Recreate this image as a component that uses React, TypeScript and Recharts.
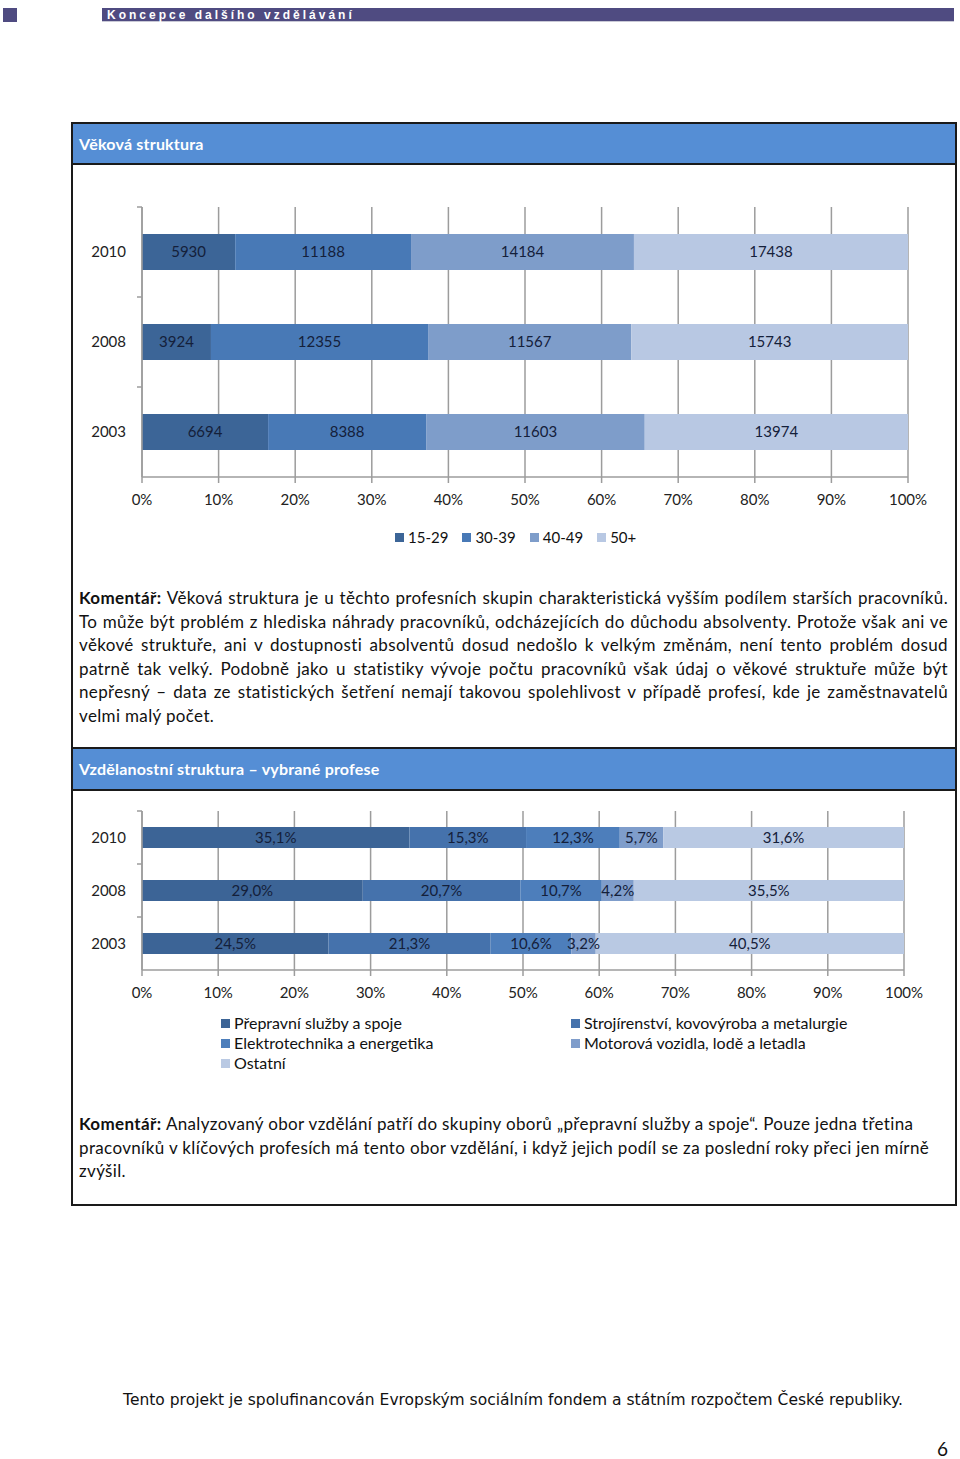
import React from 'react'
import { BarChart, Bar, XAxis, YAxis, CartesianGrid, LabelList } from 'recharts'

// --- data: age structure (counts of workers) ---
const AGE_YEARS = ['2010', '2008', '2003']
const AGE_GROUPS = ['15-29', '30-39', '40-49', '50+']
const AGE_15_29 = [5930, 3924, 6694]
const AGE_30_39 = [11188, 12355, 8388]
const AGE_40_49 = [14184, 11567, 11603]
const AGE_50_PLUS = [17438, 15743, 13974]
const AGE_COLORS = ['#3c6597', '#4879b6', '#7e9dca', '#b8c8e3']

// --- data: education structure (% share) ---
const EDU_YEARS = ['2010', '2008', '2003']
const EDU_FIELDS = [
  'Přepravní služby a spoje',
  'Strojírenství, kovovýroba a metalurgie',
  'Elektrotechnika a energetika',
  'Motorová vozidla, lodě a letadla',
  'Ostatní',
]
const EDU_TRANSPORT = [35.1, 29.0, 24.5]
const EDU_MACHINERY = [15.3, 20.7, 21.3]
const EDU_ELECTRO = [12.3, 10.7, 10.6]
const EDU_VEHICLES = [5.7, 4.2, 3.2]
const EDU_OTHER = [31.6, 35.5, 40.5]
const EDU_COLORS = ['#3c6496', '#4572ac', '#4d7ebb', '#7f9dcb', '#b9c9e3']

const PCT_TICKS = [0, 0.1, 0.2, 0.3, 0.4, 0.5, 0.6, 0.7, 0.8, 0.9, 1]

const ageSeries = [AGE_15_29, AGE_30_39, AGE_40_49, AGE_50_PLUS]
const eduSeries = [EDU_TRANSPORT, EDU_MACHINERY, EDU_ELECTRO, EDU_VEHICLES, EDU_OTHER]

const ageData = AGE_YEARS.map((year, i) => {
  const row: Record<string, string | number> = { year }
  ageSeries.forEach((s, k) => (row[`s${k}`] = s[i]))
  return row
})

const eduData = EDU_YEARS.map((year, i) => {
  const row: Record<string, string | number> = { year }
  eduSeries.forEach((s, k) => (row[`s${k}`] = s[i]))
  return row
})

const FONT = 'Lato, "Open Sans", sans-serif'
const GRID = '#9c9c9c'
const LABEL = '#14203a'
const HEADER_BLUE = '#558ed5'

const pct = (v: number) => `${Math.round(v * 100)}%`
const czPct = (v: unknown) => `${Number(v).toFixed(1).replace('.', ',')}%`

// category tick: year label plus a short tick mark on the band boundary (Excel style)
function YearTick(props: any) {
  const { x, y, payload } = props
  const half = payload?.offset ?? 0
  const axisX = x + 16
  return (
    <g>
      <text x={x} y={y} dy="0.355em" textAnchor="end" fill="#222" fontSize={15}>
        {payload.value}
      </text>
      <line x1={axisX - 5} x2={axisX} y1={y - half} y2={y - half} stroke={GRID} strokeWidth={1.5} />
    </g>
  )
}

function StackChart({
  data,
  names,
  colors,
  width,
  height,
  margin,
  barSize,
  formatter,
}: {
  data: Record<string, string | number>[]
  names: string[]
  colors: string[]
  width: number
  height: number
  margin: { top: number; right: number; bottom: number; left: number }
  barSize: number
  formatter?: (v: unknown) => string
}) {
  return (
    <BarChart
      width={width}
      height={height}
      data={data}
      layout="vertical"
      stackOffset="expand"
      margin={margin}
      style={{ fontFamily: FONT }}
    >
      <CartesianGrid horizontal={false} stroke={GRID} strokeWidth={1.5} />
      <XAxis
        type="number"
        domain={[0, 1]}
        ticks={PCT_TICKS}
        tickFormatter={pct}
        stroke={GRID}
        strokeWidth={1.5}
        tickSize={6}
        tickMargin={11}
        height={40}
        tick={{ fill: '#222', fontSize: 15 }}
      />
      <YAxis
        type="category"
        dataKey="year"
        width={71}
        stroke={GRID}
        strokeWidth={1.5}
        tickLine={false}
        tickSize={6}
        tickMargin={10}
        tick={<YearTick />}
      />
      {names.map((name, k) => (
        <Bar
          key={name}
          dataKey={`s${k}`}
          name={name}
          stackId="a"
          fill={colors[k]}
          barSize={barSize}
          isAnimationActive={false}
        >
          <LabelList
            dataKey={`s${k}`}
            position="center"
            fill={LABEL}
            fontSize={15}
            formatter={formatter}
          />
        </Bar>
      ))}
    </BarChart>
  )
}

function Swatch({ color }: { color: string }) {
  return (
    <span
      style={{ display: 'inline-block', width: 9, height: 9, background: color, marginRight: 4 }}
    />
  )
}

const comment1 = [
  'Věková struktura je u těchto profesních skupin charakteristická vyšším podílem starších pracovníků.',
  'To může být problém z hlediska náhrady pracovníků, odcházejících do důchodu absolventy. Protože však ani ve',
  'věkové struktuře, ani v dostupnosti absolventů dosud nedošlo k velkým změnám, není tento problém dosud',
  'patrně tak velký. Podobně jako u statistiky vývoje počtu pracovníků však údaj o věkové struktuře může být',
  'nepřesný – data ze statistických šetření nemají takovou spolehlivost v případě profesí, kde je zaměstnavatelů',
  'velmi malý počet.',
]

const comment2 = [
  'Analyzovaný obor vzdělání patří do skupiny oborů „přepravní služby a spoje“. Pouze jedna třetina',
  'pracovníků v klíčových profesích má tento obor vzdělání, i když jejich podíl se za poslední roky přeci jen mírně',
  'zvýšil.',
]

function Comment({ lines, top, justify }: { lines: string[]; top: number; justify: boolean }) {
  return (
    <div
      style={{
        position: 'absolute',
        left: 79,
        top,
        width: 869,
        fontFamily: FONT,
        fontSize: 17,
        letterSpacing: 0.35,
        lineHeight: '23.5px',
        color: '#111',
      }}
    >
      {lines.map((line, i) => (
        <div
          key={i}
          style={{
            textAlign: justify ? 'justify' : 'left',
            textAlignLast: justify && i < lines.length - 1 ? 'justify' : 'left',
            whiteSpace: 'nowrap',
          }}
        >
          {i === 0 && <b>Komentář: </b>}
          {line}
        </div>
      ))}
    </div>
  )
}

export default function App() {
  return (
    <div
      style={{
        position: 'absolute',
        left: 0,
        top: 0,
        width: 960,
        height: 1459,
        background: '#fff',
        overflow: 'hidden',
      }}
    >
      {/* page header */}
      <div style={{ position: 'absolute', left: 3, top: 8, width: 14, height: 14, background: '#4f4b81' }} />
      <div
        style={{
          position: 'absolute',
          left: 102,
          top: 8,
          width: 852,
          height: 14,
          background: '#4f4b81',
          borderBottom: '1px solid #c9c9d6',
          color: '#fff',
          fontFamily: '"Liberation Sans", Arial, sans-serif',
          fontSize: 12,
          fontWeight: 'bold',
          letterSpacing: 3,
          lineHeight: '14px',
          paddingLeft: 5,
          boxSizing: 'border-box',
        }}
      >
        Koncepce dalšího vzdělávání
      </div>

      {/* boxed section */}
      <div
        style={{
          position: 'absolute',
          left: 71,
          top: 122,
          width: 886,
          height: 1084,
          border: '2px solid #1a1a1a',
          boxSizing: 'border-box',
        }}
      />
      <div
        style={{
          position: 'absolute',
          left: 73,
          top: 124,
          width: 882,
          height: 41,
          background: HEADER_BLUE,
          borderBottom: '2px solid #1a1a1a',
          boxSizing: 'border-box',
          color: '#fff',
          fontFamily: FONT,
          fontWeight: 'bold',
          fontSize: 16,
          letterSpacing: 0.2,
          lineHeight: '39px',
          paddingLeft: 6,
        }}
      >
        Věková struktura
      </div>

      <div style={{ position: 'absolute', left: 71, top: 163 }}>
        <StackChart
          data={ageData}
          names={AGE_GROUPS}
          colors={AGE_COLORS}
          width={885}
          height={358}
          margin={{ top: 44, right: 48, bottom: 4, left: 0 }}
          barSize={36}
        />
      </div>

      <div
        style={{
          position: 'absolute',
          left: 395,
          top: 527,
          display: 'flex',
          gap: 14,
          fontFamily: FONT,
          fontSize: 15,
          lineHeight: '20px',
          color: '#111',
        }}
      >
        {AGE_GROUPS.map((g, k) => (
          <div key={g} style={{ display: 'flex', alignItems: 'center' }}>
            <Swatch color={AGE_COLORS[k]} />
            {g}
          </div>
        ))}
      </div>

      <Comment lines={comment1} top={586} justify />

      <div
        style={{
          position: 'absolute',
          left: 73,
          top: 747,
          width: 882,
          height: 44,
          background: HEADER_BLUE,
          borderTop: '2px solid #1a1a1a',
          borderBottom: '2px solid #1a1a1a',
          boxSizing: 'border-box',
          color: '#fff',
          fontFamily: FONT,
          fontWeight: 'bold',
          fontSize: 16,
          letterSpacing: 0.2,
          lineHeight: '40px',
          paddingLeft: 6,
        }}
      >
        Vzdělanostní struktura – vybrané profese
      </div>

      <div style={{ position: 'absolute', left: 71, top: 790 }}>
        <StackChart
          data={eduData}
          names={EDU_FIELDS}
          colors={EDU_COLORS}
          width={885}
          height={224}
          margin={{ top: 21, right: 52, bottom: 4, left: 0 }}
          barSize={21}
          formatter={czPct}
        />
      </div>

      <div
        style={{
          position: 'absolute',
          left: 221,
          top: 1013,
          width: 700,
          display: 'grid',
          gridTemplateColumns: '350px 350px',
          fontFamily: FONT,
          fontSize: 16,
          lineHeight: '20px',
          color: '#111',
        }}
      >
        {EDU_FIELDS.map((f, k) => (
          <div key={f} style={{ display: 'flex', alignItems: 'center' }}>
            <Swatch color={EDU_COLORS[k]} />
            {f}
          </div>
        ))}
      </div>

      <Comment lines={comment2} top={1112} justify={false} />

      {/* footer */}
      <div
        style={{
          position: 'absolute',
          left: 0,
          top: 1391,
          width: 1026,
          textAlign: 'center',
          fontFamily: '"DejaVu Sans", Verdana, sans-serif',
          fontSize: 15.5,
          color: '#111',
        }}
      >
        Tento projekt je spolufinancován Evropským sociálním fondem a státním rozpočtem České republiky.
      </div>
      <div
        style={{
          position: 'absolute',
          left: 937,
          top: 1437,
          fontFamily: FONT,
          fontSize: 19,
          color: '#111',
        }}
      >
        6
      </div>
    </div>
  )
}
